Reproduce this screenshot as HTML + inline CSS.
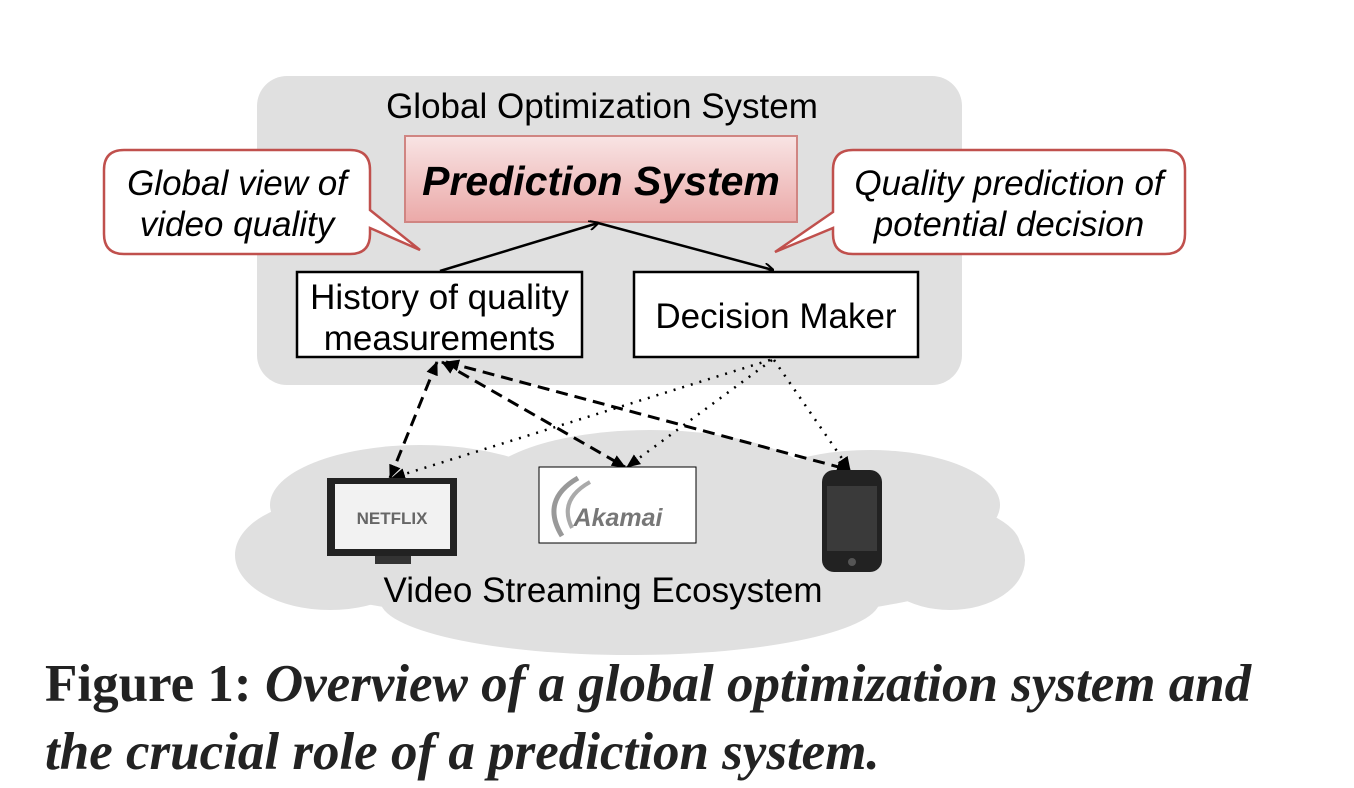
<!DOCTYPE html>
<html><head><style>
body{margin:0;width:1354px;height:788px;background:#fff;overflow:hidden;position:relative;font-family:"Liberation Sans",sans-serif}
.t{position:absolute;white-space:nowrap}
</style></head><body>
<svg width="1354" height="788" style="position:absolute;left:0;top:0">
<defs>
<linearGradient id="pg" x1="0" y1="0" x2="0" y2="1"><stop offset="0" stop-color="#f8e4e4"/><stop offset="1" stop-color="#eba9a8"/></linearGradient>
<marker id="ah" markerWidth="10" markerHeight="10" refX="9" refY="5" orient="auto-start-reverse" markerUnits="userSpaceOnUse"><path d="M0,0 L10,5 L0,10" fill="none" stroke="#000" stroke-width="2"/></marker>
<marker id="af" markerWidth="14" markerHeight="12" refX="13" refY="6" orient="auto-start-reverse" markerUnits="userSpaceOnUse"><path d="M0,0 L14,6 L0,12z" fill="#000"/></marker>
</defs>
<rect x="257" y="76" width="705" height="309" rx="30" fill="#e0e0e0"/>
<g fill="#e0e0e0">
<ellipse cx="630" cy="545" rx="390" ry="80"/>
<ellipse cx="420" cy="505" rx="150" ry="60"/>
<ellipse cx="650" cy="490" rx="170" ry="60"/>
<ellipse cx="870" cy="505" rx="130" ry="55"/>
<ellipse cx="330" cy="555" rx="95" ry="55"/>
<ellipse cx="950" cy="560" rx="75" ry="50"/>
<ellipse cx="630" cy="600" rx="250" ry="55"/>
</g>
<rect x="405" y="136" width="392" height="86" fill="url(#pg)" stroke="#d08582" stroke-width="2"/>
<path d="M124,150 H350 Q370,150 370,170 V210 L420,250 L370,228 V234 Q370,254 350,254 H124 Q104,254 104,234 V170 Q104,150 124,150Z" fill="#fff" stroke="#c0504d" stroke-width="2.5"/>
<path d="M853,150 H1165 Q1185,150 1185,170 V234 Q1185,254 1165,254 H853 Q833,254 833,234 V228 L775,252 L833,212 V170 Q833,150 853,150Z" fill="#fff" stroke="#c0504d" stroke-width="2.5"/>
<rect x="297" y="272" width="285" height="85" fill="#fff" stroke="#000" stroke-width="2.5"/>
<rect x="634" y="272" width="284" height="85" fill="#fff" stroke="#000" stroke-width="2.5"/>
<line x1="440" y1="271" x2="598" y2="223" stroke="#000" stroke-width="2.5" marker-end="url(#ah)"/>
<line x1="598" y1="223" x2="773" y2="270" stroke="#000" stroke-width="2.5" marker-end="url(#ah)"/>
<g stroke="#000" stroke-width="3" stroke-dasharray="12,7" fill="none">
<line x1="437" y1="362" x2="390" y2="478" marker-start="url(#af)" marker-end="url(#af)"/>
<line x1="442" y1="362" x2="625" y2="467" marker-start="url(#af)" marker-end="url(#af)"/>
<line x1="446" y1="362" x2="850" y2="470" marker-start="url(#af)" marker-end="url(#af)"/>
</g>
<g stroke="#000" stroke-width="2.5" stroke-dasharray="2,7" fill="none">
<line x1="770" y1="360" x2="392" y2="478" marker-end="url(#af)"/>
<line x1="772" y1="360" x2="627" y2="467" marker-end="url(#af)"/>
<line x1="774" y1="360" x2="850" y2="470" marker-end="url(#af)"/>
</g>
<rect x="327" y="478" width="130" height="78" fill="#222"/>
<rect x="335" y="484" width="115" height="65" fill="#f2f2f2"/>
<rect x="375" y="556" width="36" height="8" fill="#333"/>
<text x="392" y="524" font-family="Liberation Sans" font-weight="bold" font-size="17" fill="#666" text-anchor="middle">NETFLIX</text>
<rect x="539" y="467" width="157" height="76" fill="#fff" stroke="#000" stroke-width="1"/>
<path d="M578,478 Q540,500 562,536" fill="none" stroke="#999" stroke-width="5"/>
<path d="M590,482 Q558,500 572,528" fill="none" stroke="#aaa" stroke-width="4"/>
<text x="618" y="526" font-family="Liberation Sans" font-weight="bold" font-style="italic" font-size="25" fill="#777" text-anchor="middle">Akamai</text>
<rect x="822" y="470" width="60" height="102" rx="12" fill="#222"/>
<rect x="827" y="486" width="50" height="65" fill="#3a3a3a"/>
<circle cx="852" cy="562" r="4" fill="#555"/>
</svg>
<div class="t" style="left:0;width:1204px;text-align:center;top:87px;font-size:35px">Global Optimization System</div>
<div class="t" style="left:405px;width:392px;text-align:center;top:158px;font-size:41px;font-weight:bold;font-style:italic">Prediction System</div>
<div class="t" style="left:104px;width:266px;text-align:center;top:163px;font-size:35px;font-style:italic;line-height:41px">Global view of<br>video quality</div>
<div class="t" style="left:833px;width:352px;text-align:center;top:163px;font-size:35px;font-style:italic;line-height:41px">Quality prediction of<br>potential decision</div>
<div class="t" style="left:297px;width:285px;text-align:center;top:277px;font-size:35px;line-height:41px">History of quality<br>measurements</div>
<div class="t" style="left:634px;width:284px;text-align:center;top:297px;font-size:35px">Decision Maker</div>
<div class="t" style="left:0;width:1206px;text-align:center;top:571px;font-size:35px">Video Streaming Ecosystem</div>
<div class="t" style="left:45px;top:650px;font-family:'Liberation Serif',serif;font-size:53px;font-weight:bold;line-height:68px;color:#222"><span>Figure 1:</span> <i>Overview of a global optimization system and</i><br><i>the crucial role of a prediction system.</i></div>
</body></html>
